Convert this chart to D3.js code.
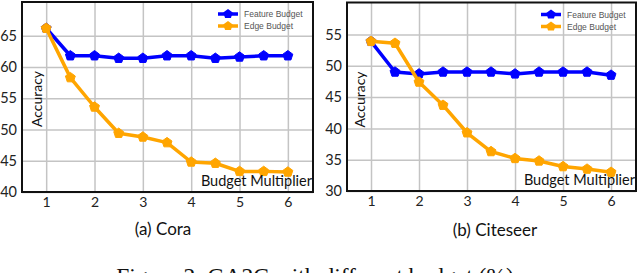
<!DOCTYPE html>
<html>
<head>
<meta charset="utf-8">
<script src="https://cdn.jsdelivr.net/npm/d3@7"></script>
<style>
  body { margin: 0; background: #fff; overflow: hidden; }
  .tick text { font-family: Lato, "Open Sans", sans-serif; fill: #222; }
  .grid line { stroke: #c4c4c4; stroke-width: 1.5; }
  .grid .domain { display: none; }
</style>
</head>
<body>
<div class="chart"></div>
<script>
// DATA ------------------------------------

const budgetMultipliers = [1, 1.5, 2, 2.5, 3, 3.5, 4, 4.5, 5, 5.5, 6];
const xTicks = [1, 2, 3, 4, 5, 6];

const coraFeature = [66.2, 61.8, 61.8, 61.4, 61.4, 61.8, 61.8, 61.4, 61.6, 61.8, 61.8];
const coraEdge = [66.2, 58.3, 53.6, 49.4, 48.8, 47.9, 44.8, 44.6, 43.3, 43.3, 43.2];
const coraTicks = [40, 45, 50, 55, 60, 65];

const citeseerFeature = [53.9, 49.0, 48.7, 49.0, 49.0, 49.0, 48.7, 49.0, 49.0, 49.0, 48.5];
const citeseerEdge = [53.9, 53.6, 47.4, 43.7, 39.3, 36.3, 35.2, 34.8, 33.9, 33.5, 33.0];
const citeseerTicks = [30, 35, 40, 45, 50, 55];

const seriesNames = ["Feature Budget", "Edge Budget"];
const seriesColors = ["#0000ff", "#ffa500"];

// CHART INIT ------------------------------

const totalWidth = 640;
const totalHeight = 273;

const svg = d3
  .select(".chart")
  .append("svg")
  .attr("width", totalWidth)
  .attr("height", totalHeight);

// pentagon marker, radius r
function pentagon(r) {
  const pts = d3.range(5).map((k) => {
    const a = -Math.PI / 2 + (k * 2 * Math.PI) / 5;
    return [r * Math.cos(a), r * Math.sin(a)];
  });
  return d3.line()(pts) + "Z";
}

function drawPanel(opts) {
  const width = opts.width,
    height = opts.height;

  const g = svg
    .append("g")
    .attr("transform", `translate(${opts.left}, ${opts.top})`);

  const xScale = d3.scaleLinear().domain([0.5, 6.52]).range([0, width]);
  const yScale = d3.scaleLinear().domain(opts.yDomain).range([height, 0]);

  // grid
  g.append("g")
    .attr("class", "grid")
    .attr("transform", `translate(0, ${height})`)
    .call(d3.axisBottom(xScale).tickValues(xTicks).tickSize(-height).tickFormat(""));

  g.append("g")
    .attr("class", "grid")
    .call(d3.axisLeft(yScale).tickValues(opts.yTicks).tickSize(-width).tickFormat(""));

  // tick labels
  const xAxis = g
    .append("g")
    .attr("transform", `translate(0, ${height})`)
    .call(d3.axisBottom(xScale).tickValues(xTicks).tickSize(0).tickPadding(5).tickFormat(d3.format("d")));
  xAxis.select(".domain").remove();
  xAxis.selectAll("text").attr("font-size", 14);

  const yAxis = g
    .append("g")
    .call(d3.axisLeft(yScale).tickValues(opts.yTicks).tickSize(0).tickPadding(5).tickFormat(d3.format("d")));
  yAxis.select(".domain").remove();
  yAxis.selectAll("text").attr("font-size", 14.5);

  // lines + markers
  const series = [opts.feature, opts.edge];
  const line = d3
    .line()
    .x((d, i) => xScale(budgetMultipliers[i]))
    .y((d) => yScale(d));

  series.forEach((values, s) => {
    g.append("path")
      .datum(values)
      .attr("fill", "none")
      .attr("stroke", seriesColors[s])
      .attr("stroke-width", 3.5)
      .attr("stroke-linejoin", "round")
      .attr("d", line);

    g.selectAll(".marker-" + s)
      .data(values)
      .enter()
      .append("path")
      .attr("class", "marker-" + s)
      .attr("d", pentagon(5.2))
      .attr("fill", seriesColors[s])
      .attr("stroke", seriesColors[s])
      .attr("stroke-width", 1)
      .attr("stroke-linejoin", "round")
      .attr("transform", (d, i) => `translate(${xScale(budgetMultipliers[i])}, ${yScale(d)})`);
  });

  // frame
  g.append("rect")
    .attr("width", width)
    .attr("height", height)
    .attr("fill", "none")
    .attr("stroke", "#111")
    .attr("stroke-width", 2);

  // legend
  const legend = g
    .append("g")
    .attr("transform", `translate(${width - 95}, 12)`);

  seriesNames.forEach((name, s) => {
    const row = legend.append("g").attr("transform", `translate(0, ${s * 12})`);
    row.append("line")
      .attr("x1", 0)
      .attr("x2", 20)
      .attr("stroke", seriesColors[s])
      .attr("stroke-width", 3.5);
    row.append("path")
      .attr("d", pentagon(5))
      .attr("fill", seriesColors[s])
      .attr("transform", "translate(10, 0)");
    row.append("text")
      .attr("x", 26)
      .attr("y", 3)
      .attr("font-family", "Liberation Sans, Arial, sans-serif")
      .attr("font-size", 8.5)
      .attr("fill", "#555")
      .text(name);
  });

  // axis titles inside plot
  g.append("text")
    .attr("transform", `translate(${opts.accX}, 97) rotate(-90)`)
    .attr("text-anchor", "middle")
    .attr("font-family", "Lato, sans-serif")
    .attr("font-size", 14)
    .attr("fill", "#111")
    .text("Accuracy");

  g.append("text")
    .attr("x", width - 1)
    .attr("y", height - 6.5)
    .attr("text-anchor", "end")
    .attr("font-family", "Lato, sans-serif")
    .attr("font-size", 14.5)
    .attr("fill", "#111")
    .text("Budget Multiplier");

  // sub caption
  g.append("text")
    .attr("x", opts.captionX)
    .attr("y", 233)
    .attr("text-anchor", "middle")
    .attr("font-family", "Lato, sans-serif")
    .attr("font-size", 17)
    .attr("fill", "#111")
    .text(opts.caption);
}

drawPanel({
  left: 22, top: 2, width: 291, height: 190,
  yDomain: [40, 70.4], yTicks: coraTicks,
  feature: coraFeature, edge: coraEdge,
  accX: 20, caption: "(a) Cora", captionX: 141
});

drawPanel({
  left: 347, top: 2.5, width: 289, height: 188.5,
  yDomain: [30, 60.1], yTicks: citeseerTicks,
  feature: citeseerFeature, edge: citeseerEdge,
  accX: 18, caption: "(b) Citeseer", captionX: 148
});

// figure caption (cut off at the bottom, as in the source page)
svg.append("text")
  .attr("x", 315)
  .attr("y", 283.5)
  .attr("text-anchor", "middle")
  .attr("font-family", "Liberation Serif, Times New Roman, serif")
  .attr("font-size", 23.5)
  .attr("fill", "#111")
  .text("Figure 2: GA2C with different budget (%)");
</script>
</body>
</html>
